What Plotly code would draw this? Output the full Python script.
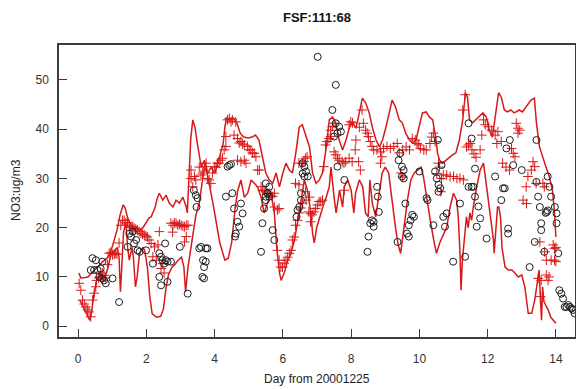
import plotly.graph_objects as go

# ---------------- data ----------------
upper_day = [0.02,0.08,0.2,0.29,0.39,0.5,0.58,0.7,0.85,0.97,1.06,1.14,1.23,1.32,1.38,1.45,1.55,1.62,1.7,1.8,1.9,1.98,2.08,2.14,2.25,2.32,2.38,2.48,2.58,2.67,2.78,2.87,2.97,3.07,3.17,3.2,3.25,3.3,3.36,3.42,3.51,3.61,3.7,3.8,3.9,4.0,4.06,4.16,4.25,4.3,4.35,4.45,4.55,4.65,4.75,4.85,4.99,5.1,5.2,5.3,5.4,5.5,5.6,5.7,5.8,5.9,6.0,6.09,6.19,6.28,6.38,6.48,6.57,6.68,6.78,6.87,6.97,7.07,7.16,7.26,7.36,7.45,7.55,7.65,7.75,7.85,7.95,8.04,8.14,8.24,8.33,8.43,8.53,8.62,8.73,8.83,8.92,9.02,9.12,9.2,9.3,9.41,9.5,9.6,9.71,9.8,9.9,10.0,10.09,10.2,10.29,10.39,10.49,10.53,10.59,10.68,10.78,10.88,10.97,11.07,11.17,11.27,11.35,11.41,11.47,11.56,11.66,11.76,11.86,11.96,12.05,12.14,12.25,12.32,12.4,12.49,12.58,12.68,12.78,12.93,13.02,13.13,13.27,13.37,13.43,13.52,13.61,13.71,13.81,13.9,13.96,14.0]
upper_val = [10.8,9.8,9.9,10,10.8,11.4,12,13,13.8,15.4,17.5,19.5,22.6,24.6,24,22,20.5,19.5,20,19.5,20,21,22,22.2,24,26,27,25.6,26.6,25,24.2,25.6,25,26.2,24.2,23,30,38,41.9,40.5,36.4,32.3,33.7,31.1,32.3,31,32.3,35,37,40.4,42.3,41.9,42.3,41.3,39.2,38.4,38.2,38.4,38.8,37.8,34.3,31.1,29.7,29,31.1,28.3,31.1,33.1,31.7,31.1,35.2,40.4,40.9,38.4,36.4,31.1,29,29.7,31.1,35.8,41.9,42.5,41.3,37.8,35.8,37.8,40.4,41.5,40.2,43.3,46.3,45.3,43.3,40.4,37.8,36.4,37.8,40.4,43.3,45.9,44.5,41.9,41.3,39.2,37.8,37.2,37.8,40.4,43.3,43.5,42.5,41.9,37.8,35.2,33.7,33.1,33.7,34.3,34.8,35.2,37.8,41.9,47.4,46.5,41.9,41.3,41.9,42.5,43.3,42.5,39.8,38.4,43.3,47.4,46.5,43.9,43.5,43.9,43.3,43.9,43.5,44.5,45.9,46.3,41.3,36.4,34.3,32.3,30.3,27.6,23,18.1]

lower_day = [0.05,0.15,0.24,0.34,0.39,0.44,0.54,0.64,0.73,0.83,0.88,0.97,1.08,1.15,1.2,1.24,1.28,1.33,1.4,1.45,1.5,1.58,1.62,1.68,1.73,1.8,1.9,1.95,2.03,2.1,2.17,2.3,2.42,2.5,2.58,2.65,2.75,2.83,2.93,3.03,3.1,3.15,3.22,3.3,3.38,3.45,3.55,3.62,3.7,3.78,3.87,3.95,4.05,4.15,4.3,4.4,4.5,4.6,4.68,4.77,4.87,4.97,5.07,5.17,5.26,5.36,5.45,5.55,5.65,5.75,5.82,5.9,5.95,6.05,6.14,6.24,6.34,6.44,6.53,6.63,6.72,6.82,6.87,6.92,6.99,7.08,7.17,7.27,7.36,7.41,7.46,7.51,7.56,7.66,7.75,7.8,7.9,8.0,8.08,8.13,8.24,8.34,8.42,8.5,8.55,8.62,8.72,8.83,8.91,9.0,9.1,9.15,9.22,9.3,9.38,9.45,9.55,9.65,9.75,9.85,9.95,10.05,10.12,10.22,10.32,10.42,10.5,10.6,10.8,10.9,11.0,11.09,11.14,11.19,11.22,11.26,11.33,11.38,11.43,11.48,11.53,11.58,11.68,11.78,11.88,11.97,12.07,12.17,12.19,12.25,12.29,12.33,12.38,12.42,12.47,12.51,12.61,12.71,12.8,12.9,13.0,13.09,13.19,13.29,13.38,13.48,13.51,13.55,13.58,13.61,13.65,13.72,13.78,13.85,13.93,14.0]
lower_val = [5.3,3.9,2.6,1.2,2.6,5.3,9.3,10.8,9.3,10.8,12,14.8,15.4,16,14,7,12,19,21,16,13.4,16,14,8,10,14.8,16,15.4,12,6,2.5,1.8,2,3.5,8,10.5,12,12.5,13.4,14,12,7,12,16,19,22.5,25,28,32.3,31.1,28,25,21,17,13.4,13.8,17,24,27.6,29.7,26.2,27,29.7,29,28.3,26.2,23,25,27,23,16,10.8,9.3,11,13.4,14.8,17.5,21.5,25.6,29.7,27.6,23,18.9,16.9,20,22.2,24.2,26.2,28.3,32.3,28,25.6,23,27.6,24.2,28.3,29.7,27.6,23,27,29.7,28.3,23,22.2,29.7,25,22.2,27,31.1,32.3,31.1,28.3,24,20,16.5,14.8,20.1,25.6,29.7,31.1,31.7,32.3,30.3,25.6,21.5,17.5,14.8,17,20.1,24.2,27,25.6,22.2,14.8,7.3,13.4,18.9,22.2,20,23,21.5,24.2,28.3,31.7,33.1,28.3,23.6,17.5,14.8,21.5,24.2,24.2,22,16,13.4,12,11.4,11.4,10.8,10,10.4,8,2.6,2.6,5.3,9.3,11.4,5,1.2,8,5,4,3.2,1.8,1.2,0.6]

model_day = [0.03,0.08,0.13,0.18,0.23,0.28,0.32,0.37,0.42,0.47,0.52,0.54,0.6,0.66,0.71,0.76,0.81,0.86,0.91,0.96,1.01,1.06,1.1,1.14,1.2,1.25,1.3,1.35,1.4,1.45,1.5,1.55,1.6,1.64,1.69,1.74,1.79,1.84,1.89,1.94,1.99,2.03,2.08,2.14,2.19,2.24,2.29,2.34,2.38,2.43,2.48,2.52,2.72,2.77,2.78,2.82,2.87,2.92,2.97,3.02,3.07,3.12,3.12,3.17,3.17,3.22,3.31,3.31,3.36,3.41,3.45,3.55,3.6,3.65,3.7,3.75,3.79,3.84,3.89,3.94,3.99,4.04,4.08,4.13,4.18,4.23,4.28,4.33,4.33,4.38,4.43,4.48,4.52,4.57,4.62,4.67,4.67,4.72,4.77,4.77,4.82,4.87,4.87,4.92,4.96,5.01,5.06,5.11,5.16,5.21,5.26,5.31,5.36,5.4,5.45,5.5,5.55,5.6,5.65,5.7,5.75,5.75,5.84,5.89,5.84,5.89,5.94,5.99,6.04,6.09,6.14,6.19,6.24,6.28,6.33,6.37,6.37,6.43,6.47,6.48,6.47,6.53,6.57,6.58,6.62,6.66,6.66,6.68,6.71,6.76,6.78,6.81,6.81,6.86,6.91,6.96,7.01,7.06,7.11,7.16,7.2,7.25,7.3,7.35,7.4,7.4,7.45,7.5,7.5,7.55,7.6,7.65,7.74,7.79,7.8,7.84,7.94,7.94,7.99,8.03,8.04,8.12,8.14,8.22,8.24,8.27,8.32,8.36,8.42,8.47,8.51,8.56,8.61,8.66,8.76,8.86,8.86,8.9,8.95,9.05,9.15,9.25,9.35,9.41,9.46,9.51,9.51,9.61,9.71,9.79,9.88,9.93,9.98,10.03,10.13,10.2,10.31,10.36,10.41,10.46,10.51,10.56,10.59,10.63,10.65,10.7,10.8,10.9,11.0,11.1,11.19,11.29,11.27,11.34,11.38,11.44,11.49,11.54,11.6,11.66,11.78,11.83,11.88,11.93,12.02,12.12,12.22,12.27,12.3,12.4,12.44,12.54,12.64,12.7,12.75,12.8,12.84,12.89,12.94,12.89,13.04,13.14,13.13,13.18,13.28,13.33,13.38,13.42,13.48,13.53,13.55,13.57,13.62,13.66,13.67,13.72,13.72,13.77,13.8,13.86,13.92,13.96,13.96,14.0,14.0]
model_val = [8.7,7.3,5.3,4.5,3.9,3.3,2.9,1.9,5.3,6.7,8,9.3,9.8,10,10.8,10.3,9.8,12.5,14.8,15,14.5,14.6,14.8,14.6,16.9,20.5,21.5,21.5,21,21,20.5,20,20.2,19.9,19.7,19.5,19.2,18.9,18.7,18.5,18.3,18.1,17.5,16.8,14.1,16.1,13.4,16.5,19.2,11.7,12.7,10.8,20.9,19.1,20.5,21,20.9,20.5,20.7,20.5,20.3,20.2,17.1,20.5,18.2,20.5,31.7,30,28.3,30.4,29.7,32.3,30.7,31.1,32.4,33.1,30,29.7,29,31.1,32.4,32.3,33.1,33.1,33.7,34.1,35.8,36.5,38.5,41.9,42.2,41.5,41.9,38.8,41.5,38.1,33.7,37.2,37.5,33.4,37,36.8,33.7,33.1,36.5,35.8,35.8,35.2,35.1,34.4,31.7,31.7,28.3,27.6,27.6,27.3,27,27,26.6,26.3,27,24.2,23.6,23.9,15.4,13.4,12,12,12.8,13.4,14,14.8,15.4,17.5,18.1,20.5,29,21.5,28.7,23,33.1,24,33.1,25,33.4,34.1,27.3,25.6,34.4,23.2,26.2,22.9,21.2,22.6,23.2,23.9,24.6,25.3,25.3,25.6,32.4,36.8,37.5,38.1,38.5,39.8,40.5,41.2,35.4,34.8,34.1,33.7,33.4,33.1,27.6,33.4,34.1,40.9,41.5,33.4,41.3,35.8,37.8,33.4,40.4,31.7,43.9,41.2,39.8,39.2,38.5,37.5,36.5,35.8,35.8,35.4,33.1,34.4,36.1,36.5,36.1,36.5,37.1,35.2,31.1,35.8,30.3,36.4,35.8,38.1,37.8,37.1,36.8,36.1,35.8,35.8,37.1,38.4,39.2,37.5,31,33.1,32.3,27.3,30,30.7,30.7,30.4,30.4,30,30,29.7,43.9,47,36.4,36.8,37.1,35.8,35,34.3,35.8,38.8,41.9,40.9,40.5,39.8,38.8,37.1,39.5,37.5,33.1,32.3,31.7,36.1,35.1,34.4,41.2,40.2,39.8,39.2,25.6,24.9,28.3,30.4,31.7,33.4,32.4,29,9.7,17.1,6,9.3,29,28.3,15.1,13.4,10.4,9.3,10,13.4,16.5,15.8,13.4,13.1,16]

obs_day = [0.37,0.42,0.47,0.52,0.57,0.62,0.66,0.71,0.71,0.76,0.81,1.01,1.2,1.45,1.5,1.55,1.6,1.64,1.7,1.74,1.8,1.99,2.19,2.38,2.38,2.43,2.43,2.47,2.52,2.55,2.57,2.62,2.62,2.72,2.98,3.21,3.39,3.45,3.5,3.47,3.55,3.6,3.64,3.66,3.69,3.69,3.74,3.74,3.79,4.33,4.38,4.43,4.48,4.52,4.57,4.6,4.62,4.67,4.72,4.77,4.82,5.36,5.4,5.45,5.5,5.5,5.5,5.55,5.6,5.6,5.7,5.75,6.4,6.43,6.48,6.53,6.53,6.58,6.58,6.63,6.63,6.68,6.73,7.02,7.45,7.5,7.55,7.55,7.6,7.6,7.65,7.7,7.8,8.48,8.51,8.56,8.61,8.66,8.66,8.76,8.78,8.81,9.36,9.39,9.44,9.49,9.49,9.54,9.54,9.59,9.64,9.69,9.69,9.74,9.79,9.84,10.0,10.21,10.24,10.41,10.46,10.51,10.54,10.56,10.56,10.61,10.65,10.7,10.75,10.8,10.99,11.19,11.34,11.44,11.44,11.53,11.53,11.58,11.63,11.63,11.68,11.73,11.78,11.97,12.22,12.4,12.45,12.5,12.55,12.6,12.6,12.65,12.75,13.0,13.23,13.38,13.43,13.43,13.48,13.53,13.57,13.57,13.66,13.7,13.73,13.76,13.76,13.81,13.86,13.97,14.02,14.02,14.07,14.1,14.16,14.21,14.26,14.31,14.36,14.41,14.46,14.5,14.55]
obs_val = [11.4,13.8,11.4,13.4,11.4,10,11.7,13.1,9.7,9.3,8.7,9.7,4.9,16.1,18.8,18.2,19.2,16.8,17.5,15.4,15.1,15.4,12.7,14.8,10,14.1,8.3,13.4,12.7,16.8,13.4,13.1,9,13.1,16.1,6.6,27.6,26.6,26,24.2,15.8,16.1,10,13.4,12,9.7,15.8,13.1,15.8,26.3,32.4,32.7,32.9,27,23.9,18.2,18.8,21.2,20.2,24.9,22.9,15.1,20.9,23.9,29,26.3,25.6,27,28.3,26.3,19.5,17.5,22.2,23.6,24.2,25.6,27,33.1,31,32.4,30.4,31.4,30.4,54.7,43.9,38.5,49,41.2,39.2,32.4,40.5,39.5,29.7,15.1,18.2,20.9,21.5,21.2,20.2,28.3,26.3,23.2,17.1,33.7,35.1,32.4,30.4,31.7,30,24.9,18.8,18.2,20.5,21.5,22.6,22.2,31.4,26,25.6,20.5,31.4,30,37.8,28.7,27.3,28,32.7,22.2,20.2,22.9,13.1,24.9,14.1,41.2,28.3,38.1,28.3,28.3,32,26.3,20.2,24.3,21.9,17.8,30.4,25.6,28,28,36.1,19.8,18.8,37.8,32.7,31.7,12,17.1,37.8,29.3,26.3,24.2,20.9,19.5,15.1,23,23.2,23.5,30.4,28.3,26.3,24.2,22.9,20.9,14.8,7.3,6.6,5.6,3.9,3.9,4.3,3.9,3.6,3.3,2.6]

x_ticks = [0, 2, 4, 6, 8, 10, 12, 14]
y_ticks = [0, 10, 20, 30, 40, 50]

RED = "rgb(215,25,25)"
DARK = "rgb(30,30,30)"
FONT = "Liberation Sans, Arial, sans-serif"

fig = go.Figure()
fig.add_trace(go.Scatter(x=upper_day, y=upper_val, mode="lines",
                         line=dict(color=RED, width=1.5), showlegend=False))
fig.add_trace(go.Scatter(x=lower_day, y=lower_val, mode="lines",
                         line=dict(color=RED, width=1.5), showlegend=False))
fig.add_trace(go.Scatter(x=model_day, y=model_val, mode="markers",
                         marker=dict(symbol="cross-thin-open", size=7, color=RED,
                                     line=dict(color=RED, width=1)),
                         showlegend=False))
fig.add_trace(go.Scatter(x=obs_day, y=obs_val, mode="markers",
                         marker=dict(symbol="circle-open", size=7, color=DARK,
                                     line=dict(color=DARK, width=1)),
                         showlegend=False))

axis_common = dict(showgrid=False, zeroline=False, showline=True, mirror=True,
                   automargin=False,
                   linecolor="rgb(60,60,60)", linewidth=1.5,
                   ticks="inside", ticklen=8, tickwidth=1.2,
                   tickcolor="rgb(60,60,60)",
                   tickfont=dict(family=FONT, size=12, color="rgb(50,50,50)"))

fig.update_layout(
    width=576, height=389,
    margin=dict(l=59, r=1, t=45, b=52),
    paper_bgcolor="white", plot_bgcolor="white",
    xaxis=dict(range=[-0.56, 14.56], tickvals=x_ticks,
               ticktext=[str(v) for v in x_ticks], ticklabelstandoff=10,
               **axis_common),
    yaxis=dict(range=[-2.2, 57.1], tickvals=y_ticks,
               ticktext=[str(v) for v in y_ticks], ticklabelstandoff=6,
               **axis_common),
    annotations=[
        dict(text="<b>FSF:111:68</b>", xref="paper", yref="paper",
             x=(317 - 59) / 516, y=1 + (45 - 18) / 292, xanchor="center",
             yanchor="middle", showarrow=False,
             font=dict(family=FONT, size=13, color="rgb(20,20,20)")),
        dict(text="Day from 20001225", xref="paper", yref="paper",
             x=(317 - 59) / 516, y=-(379 - 337) / 292, xanchor="center",
             yanchor="middle", showarrow=False,
             font=dict(family=FONT, size=12, color=DARK)),
        dict(text="NO3:ug/m3", xref="paper", yref="paper",
             x=-(59 - 16) / 516, y=(337 - 190) / 292, xanchor="center",
             yanchor="middle", showarrow=False, textangle=-90,
             font=dict(family=FONT, size=12, color=DARK)),
    ],
)

fig.write_html("out.html",
               config={"displayModeBar": False},
               post_script="document.body.style.margin='0px';document.body.style.overflow='hidden';")
